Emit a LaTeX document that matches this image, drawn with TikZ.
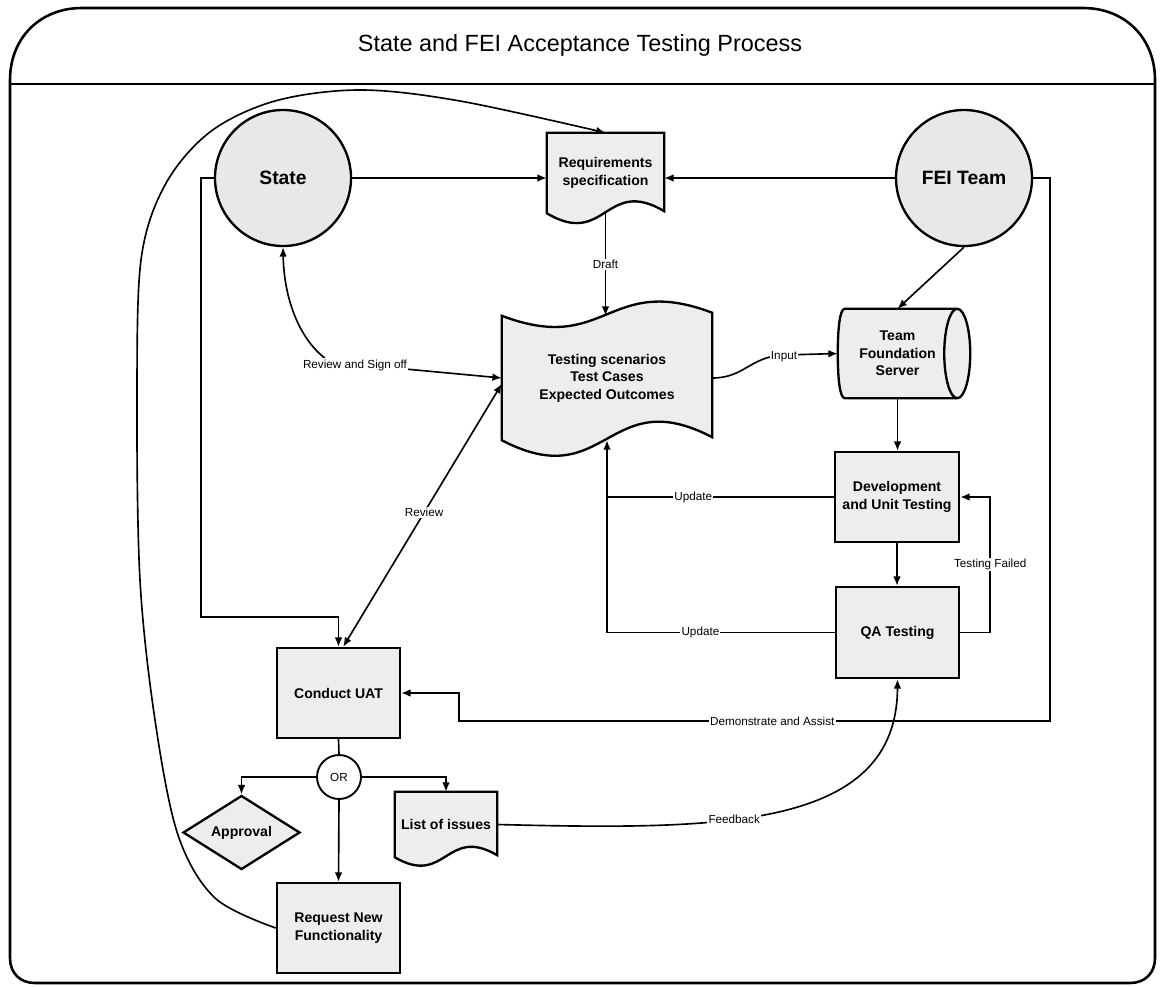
\documentclass[tikz,border=0pt]{standalone}
\usepackage{fontspec}
\setmainfont{Liberation Sans}
\usetikzlibrary{arrows.meta,shapes.geometric,calc}
\pgfdeclarelayer{background}
\pgfsetlayers{background,main}
\tikzset{
  conn/.style={line width=1.4pt, -{Latex[length=8pt,width=6.5pt]}},
  biconn/.style={line width=1.4pt, {Latex[length=8pt,width=6.5pt]}-{Latex[length=8pt,width=6.5pt]}},
  plain/.style={line width=1.4pt},
  box/.style={draw, line width=2pt, fill=black!7, rectangle, inner sep=2pt, align=center, font=\fontsize{12}{15}\selectfont\bfseries},
  holder/.style={rectangle, inner sep=0pt, align=center, font=\fontsize{12}{15}\selectfont\bfseries},
  outline/.style={draw, line width=2pt, fill=black!7},
  lbl/.style={fill=white, inner sep=1pt, font=\fontsize{10}{12}\selectfont},
  actor/.style={circle, draw, line width=2pt, fill=black!9, inner sep=0pt, font=\fontsize{16.5}{19}\selectfont\bfseries},
  frameline/.style={line width=2.2pt},
}
\begin{document}
\begin{tikzpicture}[x=0.03cm, y=-0.03cm]
\useasboundingbox (0,0) rectangle (1160,986);

% outer frame and title band
\draw[frameline] (10,80) .. controls (10,38) and (40,8) .. (82,8) -- (1083,8)
  .. controls (1125,8) and (1155,38) .. (1155,80) -- (1155,958)
  .. controls (1155,973) and (1145,983) .. (1130,983) -- (35,983)
  .. controls (20,983) and (10,973) .. (10,958) -- cycle;
\draw[frameline] (10,84) -- (1155,84);
\node[font=\fontsize{20}{24}\selectfont] (title) at (580,45) {State and FEI Acceptance Testing Process};

% nodes
\node[actor, minimum size=4.08cm] (state) at (283,178) {State};
\node[actor, minimum size=4.08cm] (fei) at (964,178) {FEI Team};
\node[holder, minimum width=3.51cm, minimum height=2.4cm] (req) at (605.5,173) {Requirements\\specification};
\node[holder, minimum width=6.3cm, minimum height=3.72cm] (doc) at (607,378) {Testing scenarios\\Test Cases\\Expected Outcomes};
\node[holder, minimum width=3.57cm, minimum height=2.67cm] (tfs) at (897.5,353.5) {Team\\Foundation\\Server};
\node[box, minimum width=3.72cm, minimum height=2.7cm] (dev) at (897,497) {Development\\and Unit Testing};
\node[box, minimum width=3.69cm, minimum height=2.73cm] (qa) at (897.5,632.5) {QA Testing};
\node[box, minimum width=3.69cm, minimum height=2.7cm] (uat) at (338.5,693) {Conduct UAT};
\node[box, minimum width=3.69cm, minimum height=2.7cm] (rnf) at (338.5,928) {Request New\\Functionality};
\node[circle, draw, line width=1.6pt, fill=white, minimum size=1.32cm, inner sep=0pt, font=\fontsize{10}{12}\selectfont] (or) at (339,777) {OR};
\node[diamond, draw, line width=2pt, fill=black!7, minimum width=3.51cm, minimum height=1.95cm, inner sep=0pt, font=\fontsize{12}{15}\selectfont\bfseries] (appr) at (241.5,832.5) {Approval};
\node[holder, minimum width=3.06cm, minimum height=1.95cm] (issues) at (446,824.5) {List of issues};

% custom outlines behind the text holders
\begin{pgfonlayer}{background}
\path[outline] (req.north west) -- (req.north east) -- ($(req.south east)+(0,-2)$)
  .. controls ($(req.south)+(0,-37)$) and ($(req.south)+(0,35)$) .. (req.south west) -- cycle;
\path[outline] (doc.north west) .. controls ($(doc.north)+(0,40)$) and ($(doc.north)+(0,-43)$) .. ($(doc.north east)+(0,-3)$)
  -- ($(doc.south east)+(0,-3)$) .. controls ($(doc.south)+(0,-58)$) and ($(doc.south)+(0,55)$) .. (doc.south west) -- cycle;
\path[outline] (issues.north west) -- (issues.north east) -- ($(issues.south east)+(0,-2)$)
  .. controls ($(issues.south)+(0,-32)$) and ($(issues.south)+(0,30)$) .. (issues.south west) -- cycle;
\path[outline] ($(tfs.north west)+(7,0)$) -- (tfs.north east)
  .. controls ($(tfs.north east)+(7.2,0)$) and ($(tfs.east)+(13,-24.6)$) .. ($(tfs.east)+(13,0)$)
  .. controls ($(tfs.east)+(13,24.6)$) and ($(tfs.south east)+(7.2,0)$) .. (tfs.south east)
  -- ($(tfs.south west)+(7,0)$)
  .. controls ($(tfs.south west)+(2,0)$) and ($(tfs.west)+(0,24.6)$) .. (tfs.west)
  .. controls ($(tfs.west)+(0,-24.6)$) and ($(tfs.north west)+(2,0)$) .. ($(tfs.north west)+(7,0)$) -- cycle;
\draw[line width=2pt] (tfs.north east) .. controls ($(tfs.north east)+(-7.2,0)$) and ($(tfs.east)+(-13,-24.6)$) .. ($(tfs.east)+(-13,0)$)
  .. controls ($(tfs.east)+(-13,24.6)$) and ($(tfs.south east)+(-7.2,0)$) .. (tfs.south east);
\end{pgfonlayer}

% connectors
\coordinate (su) at (201,617);
\coordinate (da1) at (1050,721);
\coordinate (da2) at (459,721);

\draw[conn] (state.east) -- (state.east -| req.west);
\draw[conn] (fei.west) -- (fei.west -| req.east);
\draw[conn] (req.south) -- node[lbl]{Draft} (req.south |- doc.north);
\draw[conn] (fei.south) -- (tfs.north);
\draw[conn] (doc.east) .. controls (745,378) and (750,356) .. (785,355) -- (tfs.west);
\draw[conn] (tfs.south) -- (tfs.south |- dev.north);
\draw[conn] (dev.south) -- (dev.south |- qa.north);
\draw[conn] (qa.east) -- ++(30,0) |- node[lbl, pos=0.25]{Testing Failed} (dev.east);
\draw[plain] (dev.west) -- node[lbl, pos=0.62]{Update} (doc.south |- dev.west);
\draw[conn] (qa.west) -- node[lbl, pos=0.59]{Update} (doc.south |- qa.west) -- (doc.south);
\draw[conn] (issues.east) .. controls (720,830) and (897,830) .. node[lbl, pos=0.4]{Feedback} (qa.south);
\draw[conn] (fei.east) -| (da1) -- node[lbl, pos=0.47]{Demonstrate and Assist} (da2) |- (uat.east);
\draw[conn] (state.west) -| (su) -| (uat.north);
\draw[biconn] ([xshift=4pt]uat.north) -- node[lbl, pos=0.51]{Review} ([yshift=-5pt]doc.west);
\draw[biconn] (state.south) .. controls (284,300) and (300,342) .. (330,362) -- (doc.west);
\node[lbl] (rsl) at (355,365) {Review and Sign off};
\node[lbl] (inlbl) at (784,357) {Input};
\draw[plain] (uat.south) -- (or.north);
\draw[conn] (or.west) -| (appr.north);
\draw[conn] (or.east) -| (issues.north);
\draw[conn] (or.south) -- (rnf.north);
\draw[conn] plot[smooth, tension=0.55] coordinates {(rnf.west) (215,898) (178,835) (155,720) (140,580) (137,400) (141,260) (165,185) (210,132) (275,101) (360,90) (460,101) (req.north)};
\end{tikzpicture}
\end{document}
